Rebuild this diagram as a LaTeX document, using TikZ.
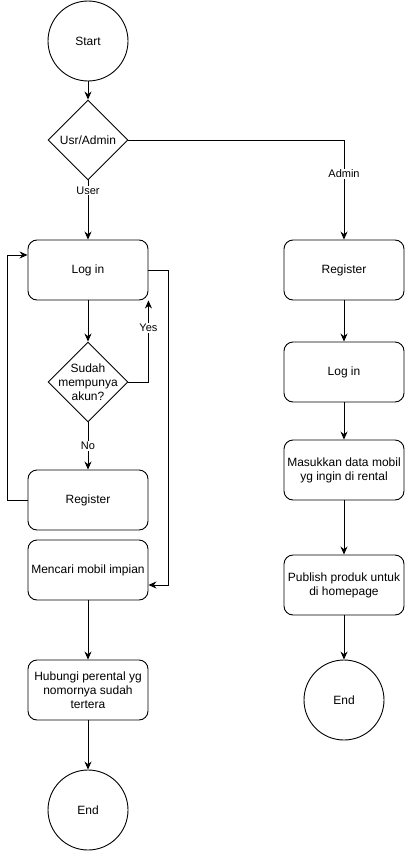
\documentclass[tikz,border=0pt]{standalone}
\usepackage{fontspec}
\setmainfont{Liberation Sans}
\usetikzlibrary{shapes.geometric,arrows.meta}
\tikzset{
  proc/.style={draw,rectangle,rounded corners=9pt,minimum width=120pt,minimum height=60pt,align=center,inner sep=1pt},
  term/.style={draw,circle,minimum size=80pt,inner sep=0pt},
  cond/.style={draw,diamond,minimum width=80pt,minimum height=80pt,inner sep=0pt},
  lbl/.style={fill=white,inner sep=1pt,font=\fontsize{11}{13}\selectfont},
}
\begin{document}
\begin{tikzpicture}[x=1pt,y=-1pt,line width=0.9pt,font=\fontsize{12}{14}\selectfont,
    >={Stealth[length=8pt,width=7pt]}]
      \useasboundingbox (0,0) rectangle (405,851);
      \draw
        (88,41) node[term] (start){Start}
        (88,140) node[cond] (usr){Usr/Admin}
        (88,270) node[proc] (login){Log in}
        (88,382) node[cond,label={[align=center]center:{Sudah\\mempunya\\akun?}}] (akun){}
        (88,500) node[proc] (reg){Register}
        (88,570) node[proc] (cari){Mencari mobil impian}
        (88,690) node[proc] (hub){Hubungi perental yg\\nomornya sudah\\tertera}
        (88,810) node[term] (end){End}
        (344,270) node[proc] (areg){Register}
        (344,372) node[proc] (alogin){Log in}
        (344,470) node[proc] (data){Masukkan data mobil\\yg ingin di rental}
        (344,585) node[proc] (pub){Publish produk untuk\\di homepage}
        (344,700) node[term] (aend){End};
      \begin{scope}[->]
        \draw (start) to (usr);
        \draw (usr) to node[lbl,pos=0.17]{User} (login);
        \draw (usr.east) -| node[lbl,pos=0.67]{Admin} (areg.north);
        \draw (login) to (akun);
        \draw (akun.east) -| node[lbl,pos=0.83]{Yes} (login.south east);
        \draw (akun) to node[lbl]{No} (reg);
        \draw (reg.west) -- ++(-20,0) |- ([yshift=15pt]login.west);
        \draw (login.east) -- ++(20,0) |- ([yshift=-15pt]cari.east);
        \draw (cari) to (hub);
        \draw (hub) to (end);
        \draw (areg) to (alogin);
        \draw (alogin) to (data);
        \draw (data) to (pub);
        \draw (pub) to (aend);
      \end{scope}
    \end{tikzpicture}
\end{document}
